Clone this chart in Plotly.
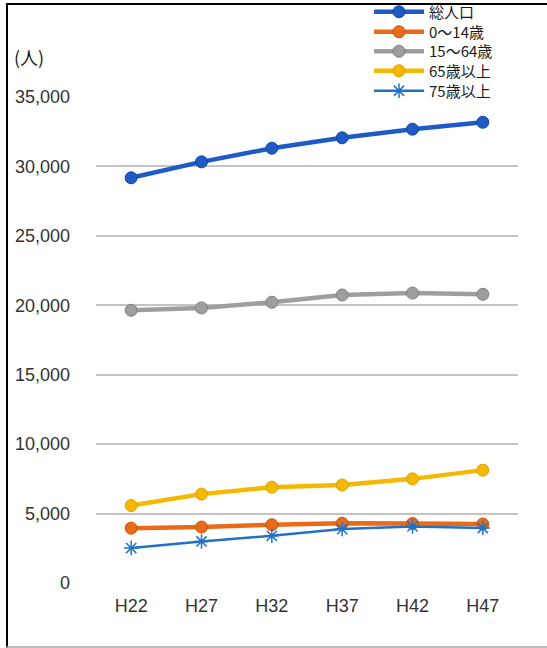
import plotly.graph_objects as go

# ---- data ----
categories = ["H22", "H27", "H32", "H37", "H42", "H47"]
series_names = ["総人口", "0～14歳", "15～64歳", "65歳以上", "75歳以上"]
total_pop = [29180, 30330, 31310, 32060, 32680, 33180]
age_0_14 = [3950, 4030, 4200, 4300, 4280, 4250]
age_15_64 = [19640, 19810, 20220, 20740, 20880, 20790]
age_65_plus = [5580, 6400, 6900, 7050, 7500, 8130]
age_75_plus = [2520, 2990, 3400, 3880, 4070, 3960]
y_ticks = [0, 5000, 10000, 15000, 20000, 25000, 30000, 35000]
y_tick_text = ["0", "5,000", "10,000", "15,000", "20,000", "25,000", "30,000", "35,000"]
unit_label = "(人)"

# ---- layout geometry ----
W, H = 547, 648
L, R, T, B = 96, 29, 97, 65
PW, PH = W - L - R, H - T - B


def px(x):
    return (x - L) / PW


def py(y):
    return (H - B - y) / PH


CJK = "Noto Sans CJK JP"
NUM = "Liberation Sans"

styles = [
    dict(color="#1F5BC6", edge="#1646A0", width=4.5, symbol="circle", size=12),
    dict(color="#E96A17", edge="#C45510", width=4.5, symbol="circle", size=12),
    dict(color="#9E9E9E", edge="#808080", width=4.5, symbol="circle", size=12),
    dict(color="#F5B800", edge="#DDA200", width=4.5, symbol="circle", size=12),
    dict(color="#2171C8", edge="#4A9BEA", width=2.5, symbol="asterisk-open", size=12),
]
values = [total_pop, age_0_14, age_15_64, age_65_plus, age_75_plus]
legend_rows = [12, 32, 51.5, 71, 91]

fig = go.Figure()
for i, (name, vals, st) in enumerate(zip(series_names, values, styles)):
    if st["symbol"] == "circle":
        marker = dict(symbol="circle", size=st["size"], color=st["color"],
                      line=dict(color=st["edge"], width=1))
    else:
        marker = dict(symbol="asterisk-open", size=st["size"],
                      line=dict(color=st["edge"], width=1.5))
    lg = "legend" if i == 0 else f"legend{i + 1}"
    fig.add_trace(go.Scatter(
        x=categories, y=vals, name=name, mode="lines+markers",
        line=dict(color=st["color"], width=st["width"]),
        marker=marker, legend=lg, cliponaxis=False,
    ))

legend_common = dict(
    bgcolor="rgba(0,0,0,0)", borderwidth=0,
    font=dict(family=CJK, size=15, color="#1A1A1A"),
    itemwidth=50, xanchor="left", yanchor="middle",
    x=px(369), tracegroupgap=0,
)
layout_legends = {}
for i, row in enumerate(legend_rows):
    key = "legend" if i == 0 else f"legend{i + 1}"
    layout_legends[key] = dict(legend_common, y=py(row))

shapes = [
    # left frame line
    dict(type="line", xref="paper", yref="paper", x0=px(7), x1=px(7),
         y0=py(4), y1=py(H + 2), line=dict(color="#000000", width=2)),
    # top frame line
    dict(type="line", xref="paper", yref="paper", x0=px(6), x1=px(W + 2),
         y0=py(4), y1=py(4), line=dict(color="#000000", width=2)),
    # bottom frame line
    dict(type="line", xref="paper", yref="paper", x0=px(6), x1=px(W + 2),
         y0=py(647), y1=py(647), line=dict(color="#A6A6A6", width=1.5)),
]

fig.update_layout(
    width=W, height=H,
    margin=dict(l=L, r=R, t=T, b=B, autoexpand=False),
    paper_bgcolor="#FFFFFF", plot_bgcolor="#FFFFFF",
    showlegend=True,
    shapes=shapes,
    annotations=[dict(
        text=unit_label, xref="paper", yref="paper", x=px(12), y=py(57),
        xanchor="left", yanchor="middle", showarrow=False,
        font=dict(family=CJK, size=18, color="#1A1A1A"),
    )],
    xaxis=dict(
        type="category", range=[-0.5, len(categories) - 0.5],
        showgrid=False, zeroline=False, showline=False,
        ticks="", tickfont=dict(family=NUM, size=18, color="#333333"),
        ticklabelstandoff=10,
    ),
    yaxis=dict(
        range=[0, 35000], tickvals=y_ticks, ticktext=y_tick_text,
        showgrid=True, gridcolor="#C4C4C4", gridwidth=2,
        zeroline=False, showline=False, ticks="",
        tickfont=dict(family=NUM, size=18, color="#333333"),
        ticklabelstandoff=25,
    ),
    **layout_legends,
)

fig.write_html("out.html")
